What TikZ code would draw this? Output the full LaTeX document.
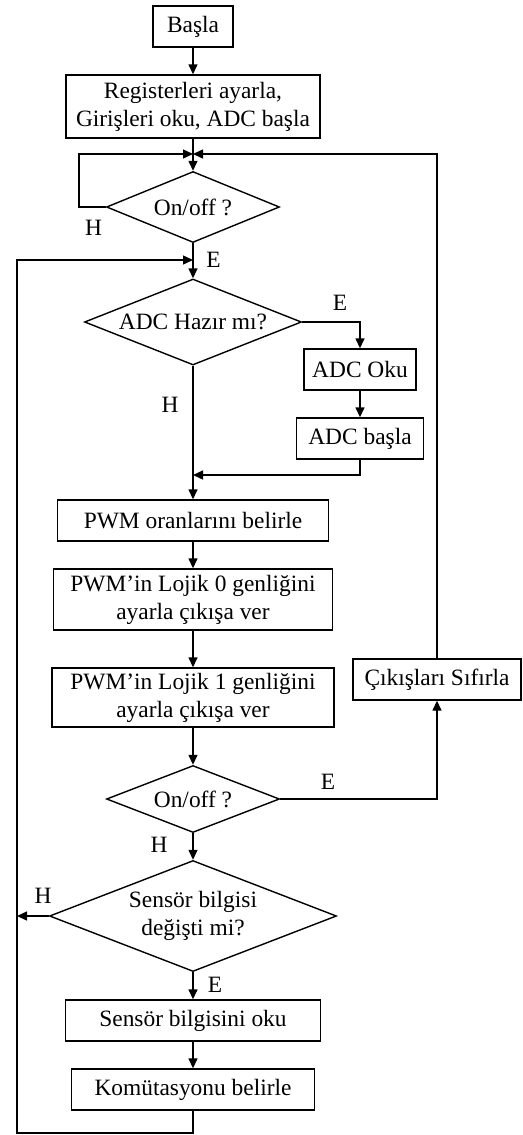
\documentclass[tikz,border=0pt]{standalone}
\usepackage{fontspec}
\setmainfont{Liberation Serif}
\usetikzlibrary{shapes.geometric,arrows.meta}
\begin{document}
\begin{tikzpicture}[x=1pt,y=-1pt,line width=1.4pt,
  font=\fontsize{23.4}{28}\selectfont,
  kutu/.style={draw, rectangle, inner sep=0pt, align=center},
  karar/.style={draw, diamond, inner sep=0pt, align=center},
  etiket/.style={inner sep=0pt},
  ok/.style={-{Triangle[length=10pt,width=9pt]}}]
\useasboundingbox (0,0) rectangle (522,1135);
\node[kutu, minimum width=80, minimum height=41] (basla) at (193,26.5){Başla};
\node[kutu, minimum width=254, minimum height=63] (reg) at (193,106.5){Registerleri ayarla,\\Girişleri oku, ADC başla};
\node[karar, aspect=2.4, minimum width=173, minimum height=71] (onoff1) at (193,207){On/off ?};
\node[karar, aspect=2.52, minimum width=217, minimum height=86] (adc) at (193,322){ADC Hazır mı?};
\node[kutu, minimum width=112, minimum height=41] (adcoku) at (360,369.5){ADC Oku};
\node[kutu, minimum width=127, minimum height=41] (adcbasla) at (360,438.5){ADC başla};
\node[kutu, minimum width=271, minimum height=41] (pwm) at (193,520.5){PWM oranlarını belirle};
\node[kutu, minimum width=279, minimum height=61] (pwm0) at (193,599.5){PWM’in Lojik 0 genliğini\\ayarla çıkışa ver};
\node[kutu, minimum width=282, minimum height=59] (pwm1) at (193,697.5){PWM’in Lojik 1 genliğini\\ayarla çıkışa ver};
\node[karar, aspect=2.58, minimum width=173, minimum height=67] (onoff2) at (193,799){On/off ?};
\node[kutu, minimum width=168, minimum height=41] (cikis) at (437,679.5){Çıkışları Sıfırla};
\node[karar, aspect=2.59, minimum width=287, minimum height=111] (sensor) at (193,916){Sensör bilgisi\\değişti mi?};
\node[kutu, minimum width=255, minimum height=41] (sensoku) at (193,1020.5){Sensör bilgisini oku};
\node[kutu, minimum width=243, minimum height=41] (komut) at (193,1089.5){Komütasyonu belirle};
\node[etiket] (h1) at (93.5,228){H};
\node[etiket] (e1) at (213.5,260){E};
\node[etiket] (e2) at (340,303){E};
\node[etiket] (h2) at (170,405){H};
\node[etiket] (e3) at (328,782){E};
\node[etiket] (h3) at (159,845){H};
\node[etiket] (h4) at (43,896){H};
\node[etiket] (e4) at (215,985){E};
\coordinate (j1) at (193,154);
\coordinate (j2) at (193,260);
\coordinate (j3) at (193,475);
\coordinate (sol1) at (79,207);
\coordinate (solalt) at (17,1133);
\coordinate (solust) at (17,260);
\draw[ok] (basla) -- (reg);
\draw[ok] (reg) -- (onoff1);
\draw[ok] (onoff1.west) -- (sol1) |- (j1);
\draw[ok] (onoff1) -- (adc);
\draw[ok] (adc.east) -| (adcoku);
\draw[ok] (adcoku) -- (adcbasla);
\draw[ok] (adcbasla.south) |- (j3);
\draw[ok] (adc) -- (pwm);
\draw[ok] (pwm) -- (pwm0);
\draw[ok] (pwm0) -- (pwm1);
\draw[ok] (pwm1) -- (onoff2);
\draw[ok] (onoff2.east) -| (cikis);
\draw[ok] (cikis.north) |- (j1);
\draw[ok] (onoff2) -- (sensor);
\draw[ok] (sensor.west) -- (sensor.west -| solust);
\draw[ok] (sensor) -- (sensoku);
\draw[ok] (sensoku) -- (komut);
\draw[ok] (komut) |- (solalt) -- (solust) -- (j2);
\end{tikzpicture}
\end{document}
